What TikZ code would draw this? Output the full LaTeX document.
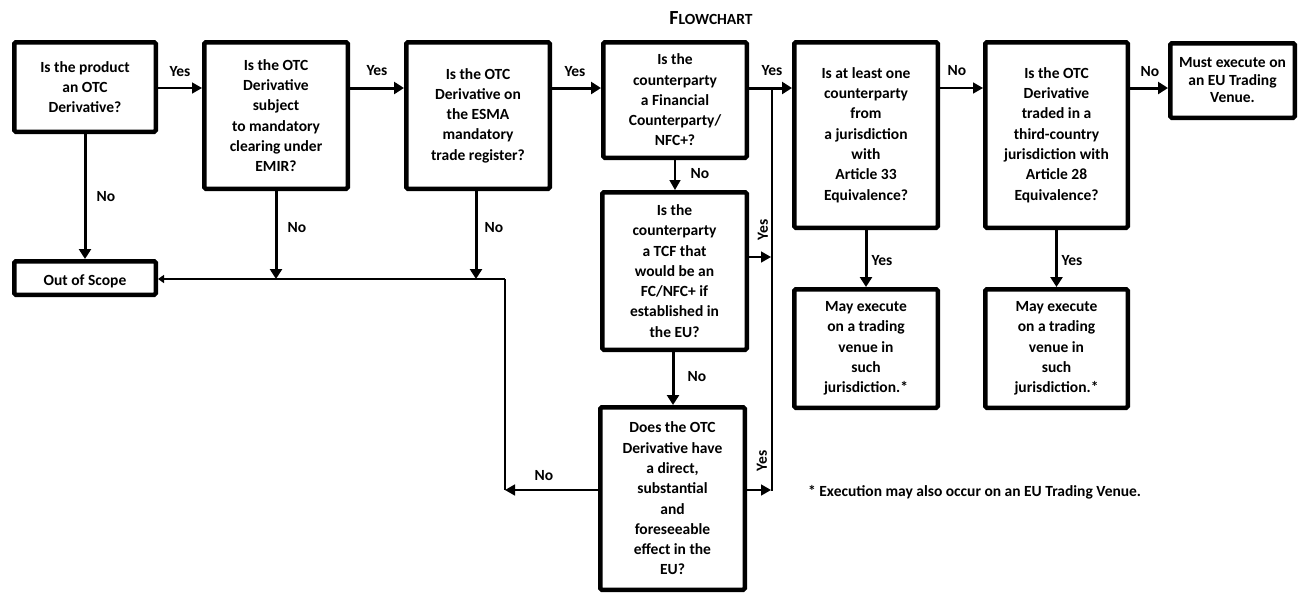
\documentclass[tikz,border=0pt]{standalone}
\usepackage{fontspec}
\setmainfont{Carlito}
\usetikzlibrary{arrows.meta}
\begin{document}
\begin{tikzpicture}[x=1pt,y=-1pt,
  box/.style={draw, line width=4.5pt, rounded corners=1.5pt, align=center, inner sep=0pt,
    font=\fontsize{15.5}{20.3}\selectfont\bfseries, execute at begin node={\rule{0pt}{17pt}}},
  lbl/.style={inner sep=0pt, font=\fontsize{15.5}{17}\selectfont\bfseries},
  thinA/.style={line width=1.6pt, -{Triangle[length=10pt,width=11pt]}},
  thickA/.style={line width=3pt, -{Triangle[length=10pt,width=12pt]}},
  smallA/.style={line width=1.6pt, -{Triangle[length=6pt,width=8pt]}},
  midline/.style={line width=2.6pt}]
\useasboundingbox (0,0) rectangle (1301,595);

% title
\node[inner sep=0pt] (title) at (711,18) {\bfseries{\fontsize{20}{20}\selectfont F}{\fontsize{15.5}{15}\selectfont LOWCHART}};

% boxes
\node[box, minimum width=141.5pt, minimum height=89.5pt] (b1) at (85,87) {Is the product\\an OTC\\Derivative?};
\node[box, minimum width=143.5pt, minimum height=146.5pt] (b2) at (276,115.5) {Is the OTC\\Derivative\\subject\\to mandatory\\clearing under\\EMIR?};
\node[box, minimum width=143.5pt, minimum height=146.5pt] (b3) at (478,115.5) {Is the OTC\\Derivative on\\the ESMA\\mandatory\\trade register?};
\node[box, minimum width=143.5pt, minimum height=115.5pt] (b4) at (675,100) {Is the\\counterparty\\a Financial\\Counterparty/\\NFC+?};
\node[box, minimum width=143.5pt, minimum height=185.5pt] (b5) at (866,135) {Is at least one\\counterparty\\from\\a jurisdiction\\with\\Article 33\\Equivalence?};
\node[box, minimum width=142.5pt, minimum height=185.5pt] (b6) at (1056.5,135) {Is the OTC\\Derivative\\traded in a\\third-country\\jurisdiction with\\Article 28\\Equivalence?};
\node[box, minimum width=124.5pt, minimum height=74.5pt, font=\fontsize{15.5}{17.5}\selectfont\bfseries] (b7) at (1232.5,80.5) {Must execute on\\an EU Trading\\Venue.};
\node[box, minimum width=141.5pt, minimum height=33.5pt, execute at begin node={}] (out) at (85,278) {Out of Scope};
\node[box, minimum width=144.5pt, minimum height=157.5pt] (tcf) at (674.5,271) {Is the\\counterparty\\a TCF that\\would be an\\FC/NFC+ if\\established in\\the EU?};
\node[box, minimum width=144.5pt, minimum height=182.5pt] (does) at (672.5,498.5) {Does the OTC\\Derivative have\\a direct,\\substantial\\and\\foreseeable\\effect in the\\EU?};
\node[box, minimum width=143.5pt, minimum height=118.5pt] (m1) at (866,348.5) {May execute\\on a trading\\venue in\\such\\jurisdiction.*};
\node[box, minimum width=142.5pt, minimum height=118.5pt] (m2) at (1056.5,348.5) {May execute\\on a trading\\venue in\\such\\jurisdiction.*};

% footnote
\node[lbl, anchor=west] (fn) at (808,492) {* Execution may also occur on an EU Trading Venue.};

% helper coordinates
\coordinate (r) at (0,88);
\coordinate (j1) at (505,279);
\coordinate (j2) at (505,490);
\coordinate (v0) at (772,88);
\coordinate (v1) at (772,491);
\coordinate (vt) at (771,257);
\coordinate (vd) at (771,490);

% top row
\draw[thinA] (b1.east |- r) -- (b2.west |- r);
\draw[thickA] (b2.east |- r) -- (b3.west |- r);
\draw[thickA] (b3.east |- r) -- (b4.west |- r);
\draw[thickA] (b4.east |- r) -- (b5.west |- r);
\draw[thinA] (b5.east |- r) -- (b6.west |- r);
\draw[thickA] (b6.east |- r) -- (b7.west |- r);

% yes trunk
\draw[midline] (v0) -- (v1);
\draw[thinA] (tcf.east |- vt) -- (vt);
\draw[thinA] (does.east |- vd) -- (vd);

% downward
\draw[thickA] (b1.south) -- (out.north);
\draw[thickA] (b2.south) -- (b2.south |- j1);
\draw[thickA] (b3.south -| 476,0) -- (476,279);
\draw[thinA] (b4.south) -- (b4.south |- tcf.north);
\draw[thickA] (tcf.south -| 673,0) -- (673,405);
\draw[thickA] (b5.south) -- (m1.north);
\draw[thickA] (b6.south) -- (m2.north);

% no to out of scope
\draw[thinA] (does.west |- j2) -- (j2);
\draw[midline] (j2) -- (j1);
\draw[smallA] (j1) -- (out.east |- j1);

% labels
\node[lbl] (y1) at (180,72) {Yes};
\node[lbl] (y2) at (377,71) {Yes};
\node[lbl] (y3) at (575,72) {Yes};
\node[lbl] (y4) at (772,71) {Yes};
\node[lbl] (n5) at (957,71) {No};
\node[lbl] (n6) at (1150,72) {No};
\node[lbl] (n1) at (106,197) {No};
\node[lbl] (n2) at (297,228) {No};
\node[lbl] (n3) at (494,228) {No};
\node[lbl] (n4) at (700,174) {No};
\node[lbl] (nt) at (697,377) {No};
\node[lbl, rotate=90] (yt) at (763,230) {Yes};
\node[lbl, rotate=90] (yd) at (762,461) {Yes};
\node[lbl] (nd) at (544,476) {No};
\node[lbl] (ym1) at (882,261) {Yes};
\node[lbl] (ym2) at (1072,261) {Yes};
\end{tikzpicture}
\end{document}
